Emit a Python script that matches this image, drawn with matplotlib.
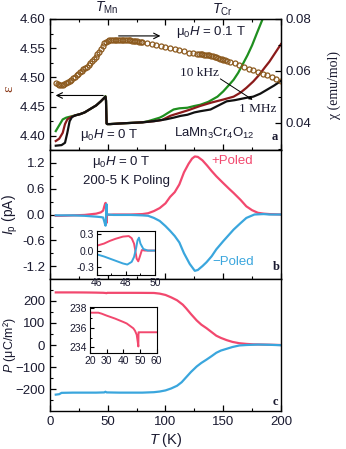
import matplotlib
matplotlib.use("Agg")
import matplotlib.pyplot as plt
from matplotlib.ticker import MultipleLocator, FixedLocator
from matplotlib.transforms import blended_transform_factory

plt.rcParams['font.family'] = ['Liberation Sans', 'DejaVu Sans']
plt.rcParams['mathtext.fontset'] = 'custom'
plt.rcParams['mathtext.rm'] = 'Liberation Sans'
plt.rcParams['mathtext.it'] = 'Liberation Sans:italic'

# ---------------- data: panel a ----------------
T_eps_black = [5, 10, 13, 15, 17, 19, 22, 26, 30, 35, 40, 44, 47, 48, 48.5, 49, 49.5, 52, 60, 70, 80, 90,
               100, 107, 113, 119, 125, 130, 139, 146, 153, 160, 165, 170, 176, 182, 188, 194, 200]
eps_black = [4.383, 4.384, 4.388, 4.405, 4.425, 4.432, 4.435, 4.437, 4.440, 4.446, 4.452, 4.459, 4.465, 4.467,
             4.460, 4.421, 4.420, 4.420, 4.421, 4.422, 4.423, 4.425, 4.428, 4.431, 4.434, 4.436, 4.440, 4.442,
             4.445, 4.452, 4.459, 4.461, 4.463, 4.465, 4.467, 4.472, 4.479, 4.486, 4.494]

T_eps_red = [5, 8, 11, 13, 15, 18, 22, 26, 30, 35, 40, 44, 47, 48, 48.5, 49, 49.5, 52, 60, 70, 80, 90, 97,
             100, 104, 107, 112, 120, 130, 140, 150, 159, 165, 170, 176, 181, 186, 190, 195, 200]
eps_red = [4.391, 4.395, 4.405, 4.420, 4.428, 4.432, 4.435, 4.437, 4.440, 4.446, 4.452, 4.459, 4.465, 4.467,
           4.460, 4.421, 4.420, 4.420, 4.421, 4.422, 4.423, 4.425, 4.427, 4.430, 4.434, 4.436, 4.439, 4.444,
           4.451, 4.457, 4.462, 4.467, 4.474, 4.482, 4.493, 4.504, 4.517, 4.527, 4.542, 4.557]

T_eps_green = [5, 8, 11, 14, 18, 22, 26, 30, 35, 40, 44, 47, 48, 48.5, 49, 49.5, 52, 60, 70, 80, 85, 90, 95,
               98, 102, 107, 112, 119, 125, 130, 137, 145, 150, 155, 159, 163, 167, 171, 175, 179, 183.5, 186]
eps_green = [4.408, 4.418, 4.428, 4.431, 4.433, 4.435, 4.437, 4.440, 4.446, 4.452, 4.459, 4.465, 4.468, 4.461,
             4.421, 4.420, 4.420, 4.421, 4.422, 4.423, 4.425, 4.428, 4.431, 4.434, 4.439, 4.445, 4.447, 4.448,
             4.451, 4.453, 4.458, 4.467, 4.476, 4.487, 4.496, 4.508, 4.523, 4.538, 4.555, 4.575, 4.597, 4.610]

T_chi = [5, 6.5, 8, 9.5, 11, 12.5, 14, 15.5, 17, 18.5, 20, 21.5, 23, 24.5, 26, 27.5, 29, 30.5, 32, 33.5, 35,
         36.5, 38, 39.5, 41, 42.5, 44, 45.5, 47, 48.5, 50, 51.5, 53, 54.5, 56, 57.5, 59, 60.5, 62, 63.5, 65,
         66.5, 68, 69.5, 71, 72.5, 74, 75.5, 77, 78.5, 80, 84, 88, 92, 96, 100, 104, 108, 112, 116, 120, 124,
         127, 129, 130.5, 132, 133.5, 135, 136.5, 138, 139.5, 141, 142.5, 144, 145.5, 147, 148.5, 150, 151.5,
         153, 156, 160, 164, 168, 172, 176, 180, 184, 188, 192, 196, 200]
chi = [0.0555, 0.0549, 0.0546, 0.0546, 0.0547, 0.0549, 0.0552, 0.0556, 0.0561, 0.0566, 0.0572, 0.0577,
       0.0583, 0.0589, 0.0595, 0.0601, 0.0607, 0.0612, 0.0617, 0.0623, 0.0630, 0.0638, 0.0646, 0.0655,
       0.0664, 0.0673, 0.0684, 0.0696, 0.0706, 0.0713, 0.0717, 0.0719, 0.0720, 0.0721, 0.0721, 0.0721,
       0.0721, 0.0720, 0.0720, 0.0720, 0.0719, 0.0719, 0.0718, 0.0718, 0.0717, 0.0716, 0.0715, 0.0714,
       0.0713, 0.0712, 0.0711, 0.0707, 0.0703, 0.0700, 0.0697, 0.0693, 0.0689, 0.0685, 0.0680, 0.0675,
       0.0671, 0.0668, 0.0667, 0.0666, 0.0665, 0.0664, 0.0663, 0.0662, 0.0661, 0.0660, 0.0658, 0.0656,
       0.0654, 0.0652, 0.0650, 0.0648, 0.0646, 0.0644, 0.0642, 0.0640, 0.0635, 0.0629, 0.0622, 0.0615,
       0.0608, 0.0602, 0.0596, 0.0590, 0.0583, 0.0576, 0.0568, 0.0560]

# ---------------- data: panel b ----------------
T_ip_pos = [5, 10, 20, 30, 40, 44, 46, 46.9, 47.8, 48.2, 48.4, 48.56, 48.74, 48.85, 49.1, 49.3, 50, 55, 60,
            70, 80, 85, 90, 95, 100, 104, 108, 112, 116, 120, 123, 125.4, 128, 132, 136, 140, 144, 150,
            155, 159, 165, 170, 175, 180, 185, 190, 200]
ip_pos = [-0.03, -0.03, -0.02, -0.01, 0.02, 0.05, 0.09, 0.18, 0.26, 0.27, 0.23, 0.13, -0.15, -0.20, 0.01,
          0.0, -0.01, 0.0, 0.0, 0.0, 0.01, 0.03, 0.08, 0.15, 0.26, 0.41, 0.52, 0.70, 0.98, 1.18, 1.30,
          1.35, 1.34, 1.26, 1.14, 1.01, 0.89, 0.73, 0.60, 0.50, 0.34, 0.19, 0.10, 0.04, 0.02, 0.01, 0.0]

T_ip_neg = [5, 10, 20, 30, 40, 44, 46, 46.9, 47.8, 48.1, 48.4, 48.56, 48.7, 48.8, 48.9, 49.0, 49.2, 49.5,
            50, 55, 60, 70, 80, 85, 90, 95, 100, 104, 108, 112, 116, 121, 125.4, 128, 132, 135.5, 140, 144,
            150, 155, 159, 165, 170, 177, 185, 190, 200]
ip_neg = [-0.02, -0.02, -0.02, -0.03, -0.05, -0.06, -0.07, -0.15, -0.24, -0.26, -0.21, -0.12, 0.04, 0.19,
          0.24, 0.13, 0.03, 0.0, 0.0, -0.01, -0.01, -0.01, -0.02, -0.03, -0.08, -0.15, -0.27, -0.38,
          -0.50, -0.65, -0.90, -1.15, -1.31, -1.29, -1.20, -1.11, -0.97, -0.81, -0.62, -0.47, -0.35,
          -0.20, -0.08, 0.0, 0.01, 0.0, 0.0]

# ---------------- data: panel c ----------------
T_p_pos = [5, 10, 20, 25, 30, 35, 40, 44, 46, 47, 48, 48.6, 49, 49.5, 50, 60, 70, 80, 90, 95, 100, 105,
           110, 115, 118, 122, 127, 131, 135.5, 140, 144, 148, 153, 158, 164, 170, 176, 185, 200]
p_pos = [237.5, 237.5, 237.5, 237.4, 237.2, 236.9, 236.5, 236.0, 235.8, 235.4, 235.0, 234.3, 234.1,
         235.6, 235.6, 235.6, 235.6, 235.4, 235.0, 232.0, 226.0, 215.0, 202.0, 182.0, 165.0, 140.0,
         111.0, 92.0, 76.0, 58.0, 42.0, 32.0, 22.0, 14.0, 8.0, 5.0, 3.0, 2.0, 0.0]

T_p_neg = [5, 8, 10, 20, 40, 47, 48, 49, 60, 80, 90, 95, 100, 105, 110, 114, 118, 122, 127, 131, 135.5,
           140, 144, 148, 153, 158, 164, 170, 180, 190, 200]
p_neg = [-224, -222, -216, -215, -215, -214, -211, -214, -215, -215, -213, -210, -205, -196, -184, -168,
         -145, -122, -97, -81, -66, -50, -35, -25, -17, -9, -2, 0, 2, 1, -1]

# insets
T_in_b_pos = [46, 46.5, 46.9, 47.3, 47.8, 48.2, 48.4, 48.56, 48.65, 48.74, 48.85, 48.95, 49.1, 49.3, 49.6, 50]
ip_in_b_pos = [0.09, 0.13, 0.18, 0.22, 0.26, 0.27, 0.23, 0.13, 0.0, -0.15, -0.20, -0.12, 0.01, 0.0, 0.0, 0.0]
T_in_b_neg = [46, 46.5, 46.9, 47.3, 47.8, 48.1, 48.4, 48.56, 48.7, 48.8, 48.9, 49.0, 49.2, 49.5, 50]
ip_in_b_neg = [-0.07, -0.11, -0.15, -0.19, -0.24, -0.26, -0.21, -0.12, 0.04, 0.19, 0.24, 0.13, 0.03, 0.0, 0.0]

T_in_c = [20, 25, 27, 30, 35, 40, 42, 44, 46, 47, 48, 48.6, 49, 49.1, 49.5, 52, 56, 60]
p_in_c = [237.55, 237.55, 237.45, 237.25, 236.95, 236.6, 236.45, 236.2, 235.95, 235.7, 235.3, 234.6,
          234.1, 235.55, 235.55, 235.55, 235.55, 235.55]

# ---------------- styles ----------------
C_GREEN = '#1f8f1f'
C_RED = '#8b1a1a'
C_BLACK = '#111111'
C_BROWN = '#8c5a1e'
C_PINK = '#f2486e'
C_BLUE = '#3aa6dd'
TXT = '#1a1a30'
FS = 9.5

fig = plt.figure(figsize=(3.46, 4.49), dpi=100)
L, W = 0.1445, 0.6676
axa = fig.add_axes([L, 0.6659, W, 0.2918])
axb = fig.add_axes([L, 0.3786, W, 0.2873])
axc = fig.add_axes([L, 0.0846, W, 0.2940])


def style(ax, top=False, right=False):
    ax.tick_params(which='both', direction='in', top=top, right=right, labelsize=FS, colors='black',
                   labelcolor=TXT)
    ax.tick_params(which='major', length=4, width=0.9)
    ax.tick_params(which='minor', length=2, width=0.8)
    for s in ax.spines.values():
        s.set_linewidth(1.0)


# ---- panel a ----
axa.plot(T_eps_green, eps_green, color=C_GREEN, lw=1.6)
axa.plot(T_eps_red, eps_red, color=C_RED, lw=1.6)
axa.plot(T_eps_black, eps_black, color=C_BLACK, lw=1.6)
axa.set_xlim(0, 200)
axa.set_ylim(4.3756, 4.60)
axa.xaxis.set_major_locator(MultipleLocator(50))
axa.xaxis.set_minor_locator(MultipleLocator(25))
axa.yaxis.set_major_locator(MultipleLocator(0.05))
axa.yaxis.set_minor_locator(MultipleLocator(0.025))
axa.yaxis.set_major_formatter(matplotlib.ticker.FormatStrFormatter('%.2f'))
style(axa, top=True)
axa.tick_params(axis='x', labelbottom=False)

axa2 = axa.twinx()
axa2.plot(T_chi, chi, linestyle='none', marker='o', mfc='none', mec=C_BROWN, ms=3.6, mew=0.9)
axa2.set_ylim(0.0296, 0.08)
axa2.yaxis.set_major_locator(MultipleLocator(0.02))
axa2.yaxis.set_minor_locator(MultipleLocator(0.01))
axa2.yaxis.set_major_formatter(matplotlib.ticker.FormatStrFormatter('%.2f'))
axa2.tick_params(which='both', direction='in', labelsize=FS, labelcolor=TXT)
axa2.tick_params(which='major', length=4, width=0.9)
axa2.tick_params(which='minor', length=2, width=0.8)
axa2.set_ylabel(r'χ (emu/mol)', family='Liberation Serif', fontsize=10, color=TXT)
axa2.yaxis.set_label_coords(1.2, 0.5)

axa.text(-0.18, 0.47, 'ε', transform=axa.transAxes, rotation=90, family='Liberation Serif', fontsize=11,
         color='#8b3a1a', ha='center', va='center')

axa.annotate('', xy=(98, 4.571), xytext=(57, 4.571),
             arrowprops=dict(arrowstyle='->', color='black', lw=0.8))
axa.annotate('', xy=(2.5, 4.469), xytext=(48.5, 4.469),
             arrowprops=dict(arrowstyle='->', color='black', lw=0.8))
axa.text(109, 4.578, r'μ$_0$$\it{H}$ = 0.1 T', fontsize=FS, color=TXT, va='center')
axa.text(112.5, 4.508, '10 kHz', family='Liberation Serif', fontsize=9.5, color=TXT, va='center')
axa.text(163.5, 4.445, '1 MHz', family='Liberation Serif', fontsize=9.5, color=TXT, va='center')
axa.annotate('', xy=(177.5, 4.459), xytext=(145.5, 4.500),
             arrowprops=dict(arrowstyle='-|>', color='black', lw=0.7, mutation_scale=5))
axa.text(26, 4.402, r'μ$_0$$\it{H}$ = 0 T', fontsize=FS, color=TXT, va='center')
axa.text(107, 4.404, r'LaMn$_3$Cr$_4$O$_{12}$', fontsize=FS, color=TXT, va='center')
axa.text(192, 4.398, 'a', family='Liberation Serif', fontweight='bold', fontsize=9, color=TXT, va='center')
tr = blended_transform_factory(axa.transData, axa.transAxes)
axa.text(49, 1.085, r'$\it{T}$$_{\rm Mn}$', transform=tr, fontsize=10, ha='center', va='center', color=TXT)
axa.text(149, 1.07, r'$\it{T}$$_{\rm Cr}$', transform=tr, fontsize=10, ha='center', va='center', color=TXT)

# ---- panel b ----
axb.plot(T_ip_pos, ip_pos, color=C_PINK, lw=1.6)
axb.plot(T_ip_neg, ip_neg, color=C_BLUE, lw=1.6)
axb.set_xlim(0, 200)
axb.set_ylim(-1.5, 1.5)
axb.xaxis.set_major_locator(MultipleLocator(50))
axb.xaxis.set_minor_locator(MultipleLocator(25))
axb.yaxis.set_major_locator(MultipleLocator(0.6))
axb.yaxis.set_minor_locator(MultipleLocator(0.3))
axb.yaxis.set_major_formatter(matplotlib.ticker.FormatStrFormatter('%.1f'))
style(axb)
axb.tick_params(axis='x', labelbottom=False)
axb.set_ylabel(r'$\it{I}$$_{\rm p}$ (pA)', fontsize=10, color=TXT)
axb.yaxis.set_label_coords(-0.13, 0.5)
axb.text(61.5, 1.22, r'μ$_0$$\it{H}$ = 0 T', fontsize=FS, color=TXT, ha='center', va='center')
axb.text(66.5, 0.77, '200-5 K Poling', fontsize=FS, color=TXT, ha='center', va='center')
axb.text(140, 1.25, '+Poled', fontsize=FS, color=C_PINK, va='center')
axb.text(141, -1.11, '\u2212Poled', fontsize=FS, color=C_BLUE, va='center')
axb.text(193, -1.22, 'b', family='Liberation Serif', fontweight='bold', fontsize=9, color=TXT, va='center')

inb = fig.add_axes([0.2795, 0.3875, 0.1685, 0.0987])
inb.plot(T_in_b_pos, ip_in_b_pos, color=C_PINK, lw=1.4)
inb.plot(T_in_b_neg, ip_in_b_neg, color=C_BLUE, lw=1.4)
inb.set_xlim(46, 50)
inb.set_ylim(-0.455, 0.37)
inb.xaxis.set_major_locator(MultipleLocator(2))
inb.xaxis.set_minor_locator(MultipleLocator(1))
inb.yaxis.set_major_locator(FixedLocator([-0.3, 0.0, 0.3]))
inb.yaxis.set_major_formatter(matplotlib.ticker.FormatStrFormatter('%.1f'))
inb.tick_params(which='both', direction='in', labelsize=7.5, labelcolor=TXT, pad=2)
inb.tick_params(which='major', length=3, width=0.8)
inb.tick_params(which='minor', length=1.5, width=0.7)

# ---- panel c ----
axc.plot(T_p_pos, p_pos, color=C_PINK, lw=1.6)
axc.plot(T_p_neg, p_neg, color=C_BLUE, lw=1.6)
axc.set_xlim(0, 200)
axc.set_ylim(-298, 298)
axc.xaxis.set_major_locator(MultipleLocator(50))
axc.xaxis.set_minor_locator(MultipleLocator(25))
axc.yaxis.set_major_locator(MultipleLocator(100))
axc.yaxis.set_minor_locator(MultipleLocator(50))
style(axc)
axc.set_ylabel(r'$\it{P}$ (μC/m²)', fontsize=9, color=TXT)
axc.yaxis.set_label_coords(-0.14, 0.5)
axc.set_xlabel(r'$\it{T}$ (K)', fontsize=10.5, color=TXT, labelpad=2)
axc.text(193, -259, 'c', family='Liberation Serif', fontweight='bold', fontsize=9, color=TXT, va='center')

inc = fig.add_axes([0.2601, 0.2131, 0.1928, 0.1038])
inc.plot(T_in_c, p_in_c, color=C_PINK, lw=1.4)
inc.set_xlim(20, 60)
inc.set_ylim(233.4, 238.16)
inc.xaxis.set_major_locator(MultipleLocator(10))
inc.yaxis.set_major_locator(MultipleLocator(2))
inc.yaxis.set_minor_locator(MultipleLocator(1))
inc.tick_params(which='both', direction='in', labelsize=7.5, labelcolor=TXT, pad=2)
inc.tick_params(which='major', length=3, width=0.8)
inc.tick_params(which='minor', length=1.5, width=0.7)

fig.savefig('out.png', dpi=100)
